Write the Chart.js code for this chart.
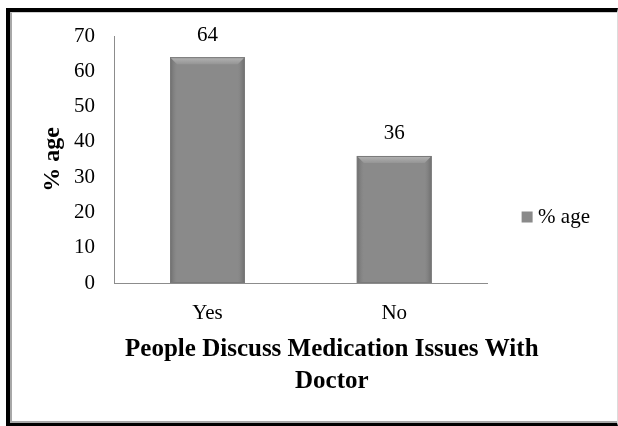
<!DOCTYPE html>
<html>
<head>
<meta charset="utf-8">
<script src="https://cdn.jsdelivr.net/npm/chart.js@4/dist/chart.umd.min.js"></script>
<style>
  html, body { margin: 0; padding: 0; background: #fff; }
  body { width: 618px; height: 426px; position: relative; overflow: hidden; }
  .frame {
    position: absolute; left: 6px; top: 8px; width: 612px; height: 418px;
    box-sizing: border-box;
    border-left: 4px solid #000; border-top: 4px solid #000;
    border-bottom: 3px solid #000; border-right: 1px solid #dcdcdc;
  }
  .frame-inner {
    position: absolute; left: 0; top: 0; right: 0; bottom: 0;
    border-left: 2px solid #a8a8a8; border-top: 1px solid #cfcfcf;
    border-bottom: 2px solid #a8a8a8;
  }
  #chart { position: absolute; left: 0; top: 0; }
</style>
</head>
<body>
<div class="frame"><div class="frame-inner"></div></div>
<canvas id="chart" width="618" height="426"></canvas>
<script>
// Survey answers and their shares in percent
const categories = ['Yes', 'No'];
const shareValues = [64, 36];
const seriesName = '% age';
const yAxisTitle = '% age';
const xAxisTitleLines = ['People Discuss Medication Issues With', 'Doctor'];
const yMax = 70;
const yStep = 10;

const SERIF = '"Liberation Serif", "Times New Roman", serif';

// Bevelled look for the grey columns: darker side strips and a lit top edge
const bevelBars = {
  id: 'bevelBars',
  afterDatasetsDraw(chart) {
    const ctx = chart.ctx;
    chart.getDatasetMeta(0).data.forEach(bar => {
      const left = bar.x - bar.width / 2;
      const right = bar.x + bar.width / 2;
      const top = bar.y;
      const bottom = bar.base;
      const inset = 7;
      ctx.save();
      // side strips
      let g = ctx.createLinearGradient(left, 0, left + inset, 0);
      g.addColorStop(0, '#6c6c6c'); g.addColorStop(1, 'rgba(128,128,128,0)');
      ctx.fillStyle = g;
      ctx.fillRect(left, top, inset, bottom - top);
      g = ctx.createLinearGradient(right - inset, 0, right, 0);
      g.addColorStop(0, 'rgba(128,128,128,0)'); g.addColorStop(1, '#6c6c6c');
      ctx.fillStyle = g;
      ctx.fillRect(right - inset, top, inset, bottom - top);
      // lit top bevel
      g = ctx.createLinearGradient(0, top, 0, top + inset);
      g.addColorStop(0, '#b4b4b4'); g.addColorStop(1, '#959595');
      ctx.fillStyle = g;
      ctx.beginPath();
      ctx.moveTo(left, top);
      ctx.lineTo(right, top);
      ctx.lineTo(right - inset, top + inset);
      ctx.lineTo(left + inset, top + inset);
      ctx.closePath();
      ctx.fill();
      // outline
      ctx.strokeStyle = '#7a7a7a';
      ctx.lineWidth = 1;
      ctx.strokeRect(left + 0.5, top + 0.5, bar.width - 1, bottom - top - 1);
      ctx.restore();
    });
  }
};

// Value labels above each column
const valueLabels = {
  id: 'valueLabels',
  afterDatasetsDraw(chart) {
    const ctx = chart.ctx;
    const ds = chart.data.datasets[0];
    ctx.save();
    ctx.font = '21px ' + SERIF;
    ctx.fillStyle = '#000';
    ctx.textAlign = 'center';
    ctx.textBaseline = 'middle';
    chart.getDatasetMeta(0).data.forEach((bar, i) => {
      ctx.fillText(String(ds.data[i]), bar.x, bar.y - 22);
    });
    ctx.restore();
  }
};

// Two-line bold category-axis title under the tick labels
const xTitle = {
  id: 'xTitle',
  afterDraw(chart) {
    const {ctx, chartArea} = chart;
    const cx = chartArea.left + chartArea.width * 0.583;
    ctx.save();
    ctx.font = 'bold 25px ' + SERIF;
    ctx.fillStyle = '#000';
    ctx.textAlign = 'center';
    ctx.textBaseline = 'middle';
    xAxisTitleLines.forEach((line, i) => {
      ctx.fillText(line, cx, chartArea.bottom + 67 + i * 32);
    });
    ctx.restore();
  }
};

new Chart(document.getElementById('chart'), {
  type: 'bar',
  data: {
    labels: categories,
    datasets: [{
      label: seriesName,
      data: shareValues,
      backgroundColor: '#8a8a8a',
      borderColor: '#777777',
      borderWidth: 0,
      categoryPercentage: 1,
      barPercentage: 0.4
    }]
  },
  options: {
    responsive: false,
    animation: false,
    devicePixelRatio: 1,
    layout: { padding: { left: 38, top: 36, right: 18, bottom: 28 } },
    plugins: {
      legend: {
        position: 'right',
        labels: {
          usePointStyle: true,
          pointStyle: 'rect',
          boxWidth: 1,
          boxHeight: 11,
          padding: 39,
          color: '#000',
          font: { family: SERIF, size: 21 }
        }
      },
      tooltip: { enabled: false }
    },
    scales: {
      x: {
        grid: { display: false, drawTicks: false },
        border: { color: '#8c8c8c', width: 1 },
        ticks: { color: '#000', padding: 18, font: { family: SERIF, size: 21 } },
        afterFit(scale) { scale.height = 115; }
      },
      y: {
        min: 0,
        max: yMax,
        grid: { display: false, drawTicks: false },
        border: { color: '#8c8c8c', width: 1 },
        ticks: { stepSize: yStep, color: '#000', padding: 19, font: { family: SERIF, size: 21 } },
        title: {
          display: true,
          text: yAxisTitle,
          color: '#000',
          padding: 0,
          font: { family: SERIF, size: 24, weight: 'bold' }
        },
        afterFit(scale) { scale.width = 76; }
      }
    }
  },
  plugins: [bevelBars, valueLabels, xTitle]
});
</script>
</body>
</html>
